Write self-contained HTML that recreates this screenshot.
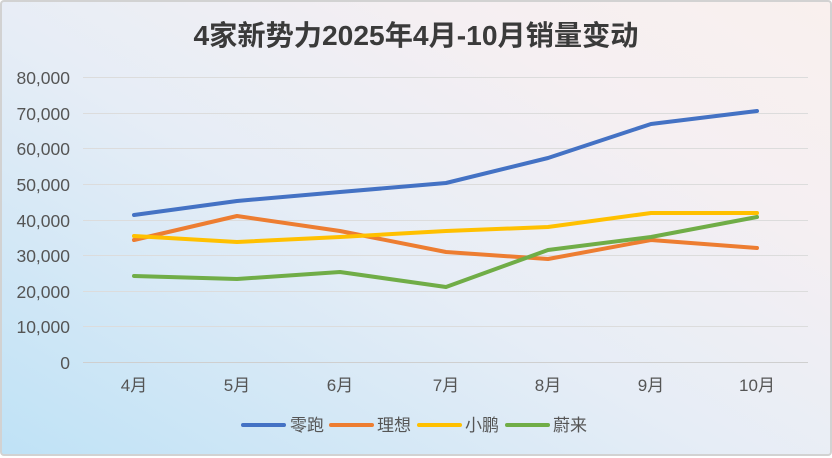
<!DOCTYPE html>
<html><head><meta charset="utf-8"><style>
html,body{margin:0;padding:0;}
body{width:832px;height:458px;overflow:hidden;}
.c{position:absolute;left:0;top:0;width:828px;height:452px;border:2px solid #d2d2d2;border-radius:4px;
background:linear-gradient(30deg,#bfe2f6 0%,#e6edf6 45%,#f5eff2 75%,#f9f0ee 100%);}
svg{position:absolute;left:0;top:0;}
text{font-family:"Liberation Sans","Noto Sans CJK SC",sans-serif;}
</style></head><body>
<div class="c"></div>
<svg width="832" height="458" viewBox="0 0 832 458">
<text x="416" y="45" text-anchor="middle" font-size="28" font-weight="bold" fill="#3a3a3a" textLength="445" lengthAdjust="spacingAndGlyphs">4家新势力2025年4月-10月销量变动</text>
<g stroke="#dcdcdc" stroke-width="1">
<line x1="83" x2="808" y1="77.5" y2="77.5"/><line x1="83" x2="808" y1="113.5" y2="113.5"/>
<line x1="83" x2="808" y1="148.5" y2="148.5"/><line x1="83" x2="808" y1="184.5" y2="184.5"/>
<line x1="83" x2="808" y1="220.5" y2="220.5"/><line x1="83" x2="808" y1="255.5" y2="255.5"/>
<line x1="83" x2="808" y1="291.5" y2="291.5"/><line x1="83" x2="808" y1="326.5" y2="326.5"/>
<line x1="83" x2="808" y1="362.5" y2="362.5" stroke="#cfcfcf"/>
</g>
<g font-size="17.5" fill="#555" text-anchor="end">
<text x="70" y="84">80,000</text><text x="70" y="120">70,000</text><text x="70" y="155">60,000</text>
<text x="70" y="191">50,000</text><text x="70" y="227">40,000</text><text x="70" y="262">30,000</text>
<text x="70" y="298">20,000</text><text x="70" y="333">10,000</text><text x="70" y="369">0</text>
</g>
<g font-size="17" fill="#555" text-anchor="middle">
<text x="134" y="391">4月</text><text x="237" y="391">5月</text><text x="340" y="391">6月</text>
<text x="446" y="391">7月</text><text x="548" y="391">8月</text><text x="651" y="391">9月</text><text x="757" y="391">10月</text>
</g>
<g fill="none" stroke-width="4" stroke-linejoin="round" stroke-linecap="round">
<polyline stroke="#4472c4" points="134,215 237,201 340,192 446,183 548,158 651,124 757,111"/>
<polyline stroke="#ed7d31" points="134,240 237,216 340,231 446,252 548,259 651,240 757,248"/>
<polyline stroke="#ffc000" points="134,236 237,242 340,237 446,231 548,227 651,213 757,213"/>
<polyline stroke="#70ad47" points="134,276 237,279 340,272 446,287 548,250 651,237 757,217"/>
</g>
<g stroke-width="4" stroke-linecap="round">
<line x1="243" x2="284" y1="425" y2="425" stroke="#4472c4"/>
<line x1="331" x2="372" y1="425" y2="425" stroke="#ed7d31"/>
<line x1="419" x2="460" y1="425" y2="425" stroke="#ffc000"/>
<line x1="507" x2="548" y1="425" y2="425" stroke="#70ad47"/>
</g>
<g font-size="17" fill="#555">
<text x="290" y="431">零跑</text><text x="377" y="431">理想</text><text x="465" y="431">小鹏</text><text x="553" y="431">蔚来</text>
</g>
</svg>
</body></html>
